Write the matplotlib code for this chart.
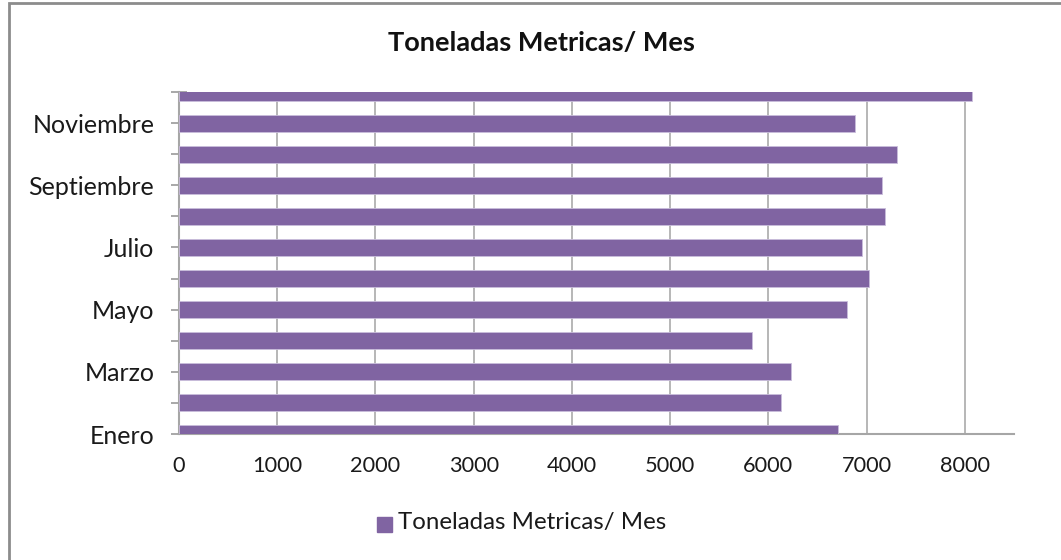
import matplotlib.pyplot as plt
from matplotlib.patches import Rectangle

meses = ['Enero', 'Febrero', 'Marzo', 'Abril', 'Mayo', 'Junio', 'Julio',
         'Agosto', 'Septiembre', 'Octubre', 'Noviembre', 'Diciembre']
toneladas = [6705, 6130, 6235, 5830, 6805, 7020, 6950, 7185, 7160, 7305, 6885, 8070]
x_ticks = [0, 1000, 2000, 3000, 4000, 5000, 6000, 7000, 8000]

color = '#8064a2'
plt.rcParams['font.family'] = ['Lato', 'DejaVu Sans']

fig = plt.figure(figsize=(10.61, 5.6), dpi=100)
ax = fig.add_axes([179 / 1061, 1 - 434 / 560, (1014 - 179) / 1061, (434 - 92) / 560])

ind = list(range(len(meses)))
ax.barh(ind, toneladas, height=0.55, color=color, edgecolor='#c9bddb', linewidth=0.6, zorder=3)

ax.set_xlim(0, 8500)
ax.set_ylim(0, 11)
ax.set_xticks(x_ticks)
ax.set_xticklabels([str(v) for v in x_ticks], fontsize=15.7, color='#1a1a1a')
ax.set_yticks(ind)
ax.set_yticklabels([m if i % 2 == 0 else '' for i, m in enumerate(meses)],
                   fontsize=18, color='#1a1a1a')
ax.tick_params(axis='x', length=0, pad=16)
ax.tick_params(axis='y', direction='inout', length=11.5, width=1.2, color='#999999', pad=12)
ax.grid(axis='x', color='#aaaaaa', linewidth=1.2, zorder=0)

for side in ['top', 'right']:
    ax.spines[side].set_visible(False)
for side in ['left', 'bottom']:
    ax.spines[side].set_color('#a6a6a6')
    ax.spines[side].set_linewidth(1.5)

fig.text(541 / 1061, 1 - 43 / 560, 'Toneladas Metricas/ Mes', ha='center', va='center',
         fontsize=19.5, fontweight='bold', color='#111111')

fig.patches.append(Rectangle((377 / 1061, 1 - 532 / 560), 15 / 1061, 15 / 560,
                             transform=fig.transFigure, color=color))
fig.text(398 / 1061, 1 - 523 / 560, 'Toneladas Metricas/ Mes', ha='left', va='center',
         fontsize=17.3, color='#1a1a1a')

fig.patches.append(Rectangle((9 / 1061, -0.02), 1.2, 1 - 3 / 560 + 0.02,
                             transform=fig.transFigure, fill=False,
                             edgecolor='#8c8c8c', linewidth=2))

fig.savefig('out.png', dpi=100)
